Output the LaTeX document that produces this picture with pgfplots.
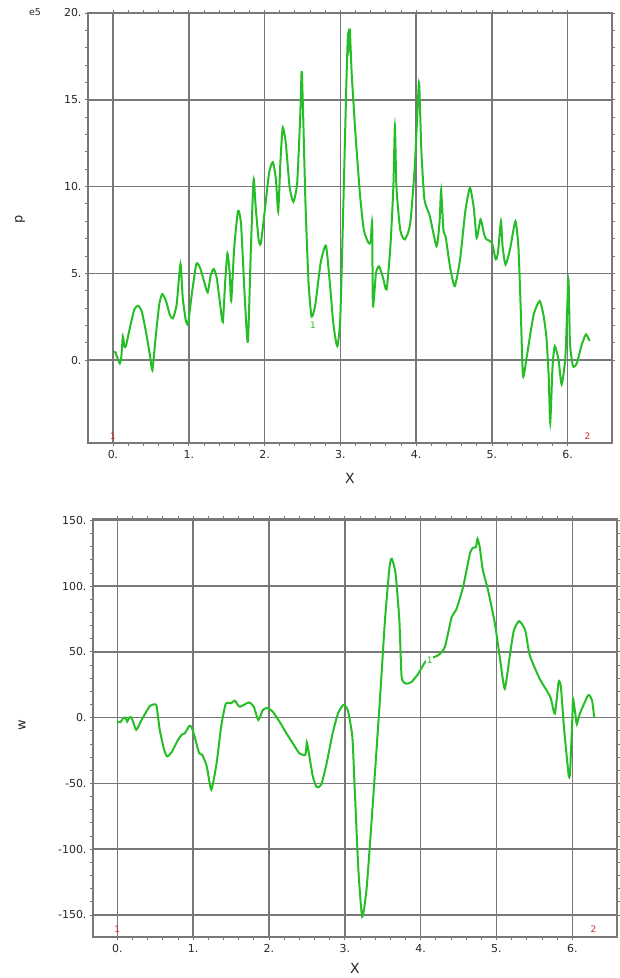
\documentclass[border=0pt]{standalone}
\usepackage{fontspec}
\setmainfont{DejaVu Sans}
\usepackage{pgfplots}
\pgfplotsset{compat=1.18}
\definecolor{cg}{RGB}{38,190,38}
\definecolor{gridc}{RGB}{120,120,120}
\definecolor{txt}{RGB}{40,40,40}
\definecolor{rd}{RGB}{215,40,40}
\pgfplotsset{mystyle/.style={
  scale only axis, anchor=south west, clip=false,
  grid=major,
  major grid style={gridc, line width=1.5bp},
  axis line style={gridc, line width=1.5bp},
  every tick/.style={gridc, line width=0.8bp},
  tick align=outside, tick pos=both,
  major tick length=3bp, minor tick length=3bp,
  minor x tick num=4, minor y tick num=4,
  xtick={0,1,2,3,4,5,6},
  xticklabels={0.,1.,2.,3.,4.,5.,6.},
  xticklabel pos=lower, yticklabel pos=left,
  ticklabel style={font=\fontsize{11}{13}\selectfont, text=txt},
  xticklabel style={yshift=-1bp},
  /pgf/number format/assume math mode=true,
}}
\begin{document}
\begin{tikzpicture}
\useasboundingbox (0,0) rectangle (620bp,978bp);
% ---------------- top: p ----------------
\begin{axis}[mystyle, at={(88bp,535bp)}, width=524bp, height=430bp,
  xmin=-0.33, xmax=6.585, ymin=-4.78, ymax=20,
  ytick={0,5,10,15,20}, yticklabels={0.,5.,10.,15.,20.}]
\addplot[cg, line width=2bp, smooth, tension=0.35] coordinates {
(0.00,0.48)(0.03,0.45)(0.06,0.1)(0.09,-0.19)(0.11,0.2)(0.13,1.35)(0.15,0.8)(0.17,0.8)
(0.22,1.8)(0.28,2.9)(0.33,3.13)(0.38,2.8)(0.44,1.5)(0.49,0.2)(0.52,-0.58)(0.56,1.2)
(0.61,3.2)(0.65,3.8)(0.70,3.4)(0.75,2.6)(0.79,2.4)(0.84,3.2)(0.89,5.54)(0.92,3.6)
(0.96,2.3)(0.99,2.1)(1.04,3.8)(1.10,5.54)(1.15,5.3)(1.21,4.4)(1.25,3.9)(1.29,4.9)
(1.33,5.25)(1.37,4.7)(1.42,3.0)(1.45,2.2)(1.48,4.5)(1.51,6.15)(1.54,5.0)(1.56,3.4)
(1.60,6.5)(1.65,8.6)(1.69,7.8)(1.74,3.5)(1.78,1.06)(1.82,6.5)(1.85,10.0)(1.86,10.4)
(1.88,9.0)(1.92,7.0)(1.95,6.7)(2.00,8.5)(2.06,10.8)(2.11,11.4)(2.15,10.4)(2.18,8.56)
(2.21,11.5)(2.24,13.4)(2.28,12.5)(2.33,10.0)(2.38,9.12)(2.43,10.2)(2.47,14.0)(2.49,16.65)
(2.51,14.0)(2.54,9.0)(2.58,4.5)(2.62,2.5)(2.67,3.2)(2.74,5.6)(2.81,6.6)(2.86,4.5)
(2.91,2.0)(2.96,0.8)(3.00,2.5)(3.04,9.0)(3.08,16.0)(3.10,18.75)(3.11,18.0)(3.125,19.04)
(3.15,16.5)(3.20,13.0)(3.26,9.5)(3.31,7.5)(3.37,6.76)(3.40,6.8)(3.42,7.9)(3.43,3.1)
(3.47,5.0)(3.51,5.4)(3.56,4.8)(3.61,4.07)(3.66,6.5)(3.70,10.0)(3.72,13.5)(3.74,10.0)
(3.79,7.5)(3.85,6.95)(3.92,7.8)(3.98,11.0)(4.02,14.5)(4.04,15.97)(4.07,12.0)(4.11,9.25)
(4.18,8.3)(4.27,6.56)(4.31,8.0)(4.33,9.8)(4.36,7.5)(4.39,7.1)(4.45,5.3)(4.51,4.26)
(4.58,5.8)(4.65,8.6)(4.71,9.92)(4.76,8.8)(4.80,7.04)(4.85,8.1)(4.90,7.2)(4.93,6.95)
(5.00,6.76)(5.05,5.8)(5.08,6.2)(5.12,8.0)(5.14,6.6)(5.18,5.5)(5.24,6.4)(5.31,8.0)
(5.35,6.5)(5.38,3.0)(5.41,-0.92)(5.46,0.2)(5.55,2.6)(5.63,3.4)(5.68,2.6)(5.72,1.29)
(5.75,-1.0)(5.77,-3.6)(5.80,-0.4)(5.83,0.8)(5.88,0.0)(5.92,-1.4)(5.97,0.2)(6.01,4.64)
(6.03,1.0)(6.07,-0.35)(6.12,-0.2)(6.18,0.8)(6.24,1.48)(6.29,1.1)
};
\node[text=cg, fill=white, inner sep=0.5bp, font=\fontsize{9}{10}\selectfont] at (axis cs:2.64,2.0) {1};
\node[text=rd, font=\fontsize{9}{10}\selectfont] at (axis cs:0,-4.4) {1};
\node[text=rd, font=\fontsize{9}{10}\selectfont] at (axis cs:6.26,-4.4) {2};
\node[text=txt, font=\fontsize{14}{16}\selectfont] at ([yshift=-35bp]axis description cs:0.5,0) {X};
\node[text=txt, rotate=90, font=\fontsize{13}{15}\selectfont] at ([xshift=-68bp]axis description cs:0,0.52) {p};
\node[text=txt, font=\fontsize{9.5}{10}\selectfont] at ([xshift=-53bp,yshift=1bp]axis description cs:0,1) {e5};
\end{axis}
% ---------------- bottom: w ----------------
\begin{axis}[mystyle, at={(93bp,41bp)}, width=524bp, height=418bp,
  xmin=-0.32, xmax=6.59, ymin=-166.8, ymax=151,
  ytick={-150,-100,-50,0,50,100,150},
  yticklabels={-150.,-100.,-50.,0.,50.,100.,150.}]
\addplot[cg, line width=2bp, smooth, tension=0.35] coordinates {
(0.00,-3)(0.04,-3.5)(0.08,-0.5)(0.11,0)(0.13,-3)(0.16,0)(0.19,0)(0.25,-9.3)
(0.32,-1.8)(0.43,8.8)(0.50,10.1)(0.52,8.3)(0.56,-9.3)(0.62,-25)(0.66,-29.5)(0.72,-26)
(0.80,-17)(0.85,-13)(0.89,-12)(0.95,-6.3)(0.98,-7.3)(1.02,-14.4)(1.08,-27)(1.12,-28.3)
(1.18,-37)(1.24,-54.8)(1.31,-34.6)(1.37,-6.8)(1.43,10.4)(1.50,10.9)(1.55,12.9)(1.61,8.3)
(1.68,10)(1.74,11.6)(1.80,8.3)(1.86,-1.8)(1.92,5.8)(1.98,7.3)(2.05,4.5)(2.15,-4)
(2.23,-11.9)(2.32,-20)(2.40,-27)(2.48,-28.3)(2.50,-19)(2.53,-28.3)(2.58,-45)(2.63,-52.8)
(2.69,-51)(2.76,-35)(2.84,-11.9)(2.91,3)(2.98,9.6)(3.04,5.6)(3.10,-14.7)(3.13,-52.7)
(3.18,-116)(3.23,-151.4)(3.29,-128.6)(3.37,-65.3)(3.46,10.6)(3.53,73.9)(3.59,114.4)(3.62,120.8)
(3.67,109.4)(3.72,73.9)(3.75,30.9)(3.81,25.8)(3.88,27.1)(3.97,33.4)(4.06,42.3)(4.15,45.5)
(4.23,47.3)(4.32,53.7)(4.41,76.5)(4.47,82)(4.56,99.2)(4.65,124.6)(4.69,129.1)(4.73,129.6)
(4.75,136)(4.78,129.6)(4.82,112.4)(4.89,96.7)(4.98,71.4)(5.05,43.5)(5.11,22)(5.18,48.6)
(5.23,66.3)(5.30,73.4)(5.38,66.3)(5.44,47.3)(5.57,29.6)(5.71,15.7)(5.77,3)(5.82,27.1)
(5.85,23.3)(5.89,-7)(5.95,-42.5)(5.97,-42.5)(6.00,-2)(6.01,14.4)(6.04,3)(6.06,-5)
(6.10,3)(6.21,17)(6.26,13.2)(6.29,0)
};
\node[text=cg, fill=white, inner sep=0.5bp, font=\fontsize{9}{10}\selectfont] at (axis cs:4.12,44) {1};
\node[text=rd, font=\fontsize{9}{10}\selectfont] at (axis cs:0,-161) {1};
\node[text=rd, font=\fontsize{9}{10}\selectfont] at (axis cs:6.28,-161) {2};
\node[text=txt, font=\fontsize{14}{16}\selectfont] at ([yshift=-31bp]axis description cs:0.5,0) {X};
\node[text=txt, rotate=90, font=\fontsize{13}{15}\selectfont] at ([xshift=-71bp]axis description cs:0,0.507) {w};
\end{axis}
\end{tikzpicture}
\end{document}
